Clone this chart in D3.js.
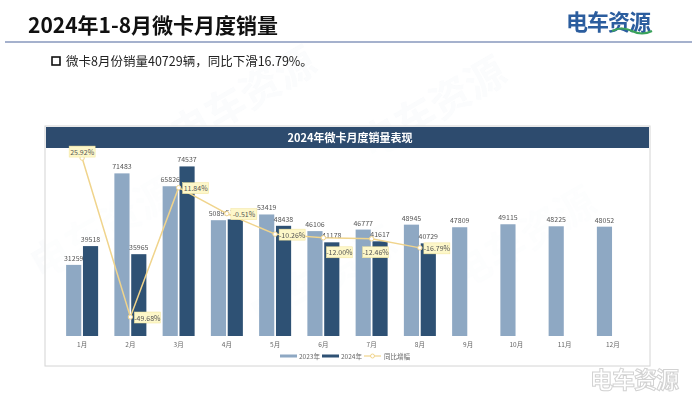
<!DOCTYPE html>
<html>
<head>
<meta charset="utf-8">
<title>2024年1-8月微卡月度销量</title>
<script src="https://cdn.jsdelivr.net/npm/d3@7"></script>
<style>
	html, body { margin: 0; padding: 0; background: #fff; overflow: hidden; }
	svg { display: block; font-family: "Noto Sans CJK SC", "Noto Sans", sans-serif; }
</style>
</head>
<body>
<svg id="chart" width="700" height="394"></svg>
<script>
	// data
	let months = ["1月", "2月", "3月", "4月", "5月", "6月", "7月", "8月", "9月", "10月", "11月", "12月"];
	let sales2023 = [31259, 71483, 65826, 50899, 53419, 46106, 46777, 48945, 47809, 49115, 48225, 48052];
	let sales2024 = [39518, 35965, 74537, 51266, 48438, 41178, 41617, 40729];
	let growth = [25.92, -49.68, 11.84, -0.51, -10.26, -12.00, -12.46, -16.79];
	let seriesNames = ["2023年", "2024年", "同比增幅"];

	let svg = d3.select("#chart");
	let c2023 = "#8ea8c3", c2024 = "#2e5174", cLine = "#f0d48c";

	// faint watermarks
	let wm = svg.append("g").attr("fill", "#9fb3cc").attr("opacity", 0.05)
		.attr("font-size", 40).attr("font-weight", "bold");
	[[110, 240], [250, 110], [440, 120], [330, 290], [530, 250]].forEach(p => {
		wm.append("text").attr("transform", `translate(${p[0]},${p[1]}) rotate(-30)`)
			.attr("text-anchor", "middle").text("电车资源");
	});

	// page title
	svg.append("text").attr("x", 28).attr("y", 33)
		.attr("font-size", 21).attr("font-weight", "bold").attr("fill", "#111")
		.text("2024年1-8月微卡月度销量");
	svg.append("line").attr("x1", 5).attr("x2", 692).attr("y1", 42).attr("y2", 42)
		.attr("stroke", "#8797bd").attr("stroke-width", 1.5);

	// logo top right
	let logo = svg.append("g");
	logo.append("text").attr("x", 566).attr("y", 30).attr("font-size", 22).attr("font-weight", "bold")
		.attr("fill", "#2b5d9e").attr("letter-spacing", -1).text("电车资源");
	logo.append("path").attr("d", "M612,31 q10,-5 20,0 q10,5 20,0").attr("fill", "none")
		.attr("stroke", "#3aa35a").attr("stroke-width", 2);

	// subtitle
	svg.append("rect").attr("x", 52).attr("y", 57).attr("width", 8).attr("height", 8)
		.attr("fill", "none").attr("stroke", "#111").attr("stroke-width", 1.6);
	svg.append("text").attr("x", 66).attr("y", 66).attr("font-size", 12.5).attr("fill", "#222")
		.text("微卡8月份销量40729辆，同比下滑16.79%。");

	// chart panel
	svg.append("rect").attr("x", 45).attr("y", 126).attr("width", 605).attr("height", 240)
		.attr("fill", "#fff").attr("fill-opacity", 0.6).attr("stroke", "#d4d4d4");
	svg.append("rect").attr("x", 46).attr("y", 127).attr("width", 603).attr("height", 21)
		.attr("fill", "#2d4b6e");
	svg.append("text").attr("x", 350).attr("y", 142).attr("text-anchor", "middle")
		.attr("font-size", 11).attr("font-weight", "bold").attr("fill", "#fff")
		.text("2024年微卡月度销量表现");

	let x = d3.scaleBand().domain(months).range([58, 637]);
	let x1 = d3.scaleBand().domain([0, 1]).range([x.bandwidth() / 2 - 16, x.bandwidth() / 2 + 16]).paddingInner(0.1);
	let y = d3.scaleLinear().domain([0, 80000]).range([336, 154]);
	let y2 = d3.scaleLinear().domain([-60, 30]).range([338.7, 149.5]);

	// bars
	let bars = [];
	months.forEach((m, i) => {
		bars.push({ m: m, s: 0, v: sales2023[i] });
		if (i < sales2024.length) bars.push({ m: m, s: 1, v: sales2024[i] });
	});
	svg.append("g").selectAll("rect").data(bars).join("rect")
		.attr("x", d => x(d.m) + x1(d.s))
		.attr("width", x1.bandwidth())
		.attr("y", d => y(d.v))
		.attr("height", d => y(0) - y(d.v))
		.attr("fill", d => d.s ? c2024 : c2023);
	svg.append("g").selectAll("text").data(bars).join("text")
		.attr("x", d => x(d.m) + x1(d.s) + x1.bandwidth() / 2)
		.attr("y", d => y(d.v) - 4)
		.attr("text-anchor", "middle").attr("font-size", 7).attr("fill", "#555")
		.text(d => d.v);

	// month axis
	let ax = svg.append("g").attr("transform", `translate(0,${y(0)})`)
		.call(d3.axisBottom(x).tickSize(0).tickPadding(6));
	ax.select(".domain").remove();
	ax.selectAll("text").attr("font-size", 6.5).attr("fill", "#666")
		.attr("font-family", "\"Noto Sans CJK SC\", sans-serif");

	// growth line
	let pts = growth.map((g, i) => ({ m: months[i], g: g, i: i }));
	let line = d3.line().x(d => x(d.m) + x.bandwidth() / 2).y(d => y2(d.g));
	svg.append("path").datum(pts).attr("d", line)
		.attr("fill", "none").attr("stroke", cLine).attr("stroke-width", 1.5);
	svg.append("g").selectAll("circle").data(pts).join("circle")
		.attr("cx", d => x(d.m) + x.bandwidth() / 2).attr("cy", d => y2(d.g)).attr("r", 2.2)
		.attr("fill", "#fff").attr("stroke", cLine).attr("stroke-width", 1);

	let lab = svg.append("g").selectAll("g").data(pts).join("g")
		.attr("transform", d => {
			let cx = x(d.m) + x.bandwidth() / 2, cy = y2(d.g);
			if (d.i == 0) return `translate(${cx},${cy - 6})`;
			if (d.i == 5) return `translate(${cx + 16},${cy + 15})`;
			if (d.i == 6) return `translate(${cx + 4},${cy + 14})`;
			return `translate(${cx + 17},${cy + 1})`;
		});
	lab.append("rect").attr("x", -13).attr("y", -6).attr("width", 26).attr("height", 11)
		.attr("fill", "#fdf7c9").attr("stroke", "#f3e49a").attr("stroke-width", 0.5);
	lab.append("text").attr("text-anchor", "middle").attr("y", 2.5)
		.attr("font-size", 7).attr("fill", "#555")
		.text(d => d.g.toFixed(2) + "%");

	// legend
	let lg = svg.append("g").attr("transform", "translate(280,356)").attr("font-size", 6.5).attr("fill", "#666");
	lg.append("rect").attr("x", 0).attr("y", -1.5).attr("width", 17).attr("height", 3).attr("fill", c2023);
	lg.append("text").attr("x", 19).attr("y", 2.5).text(seriesNames[0]);
	lg.append("rect").attr("x", 42).attr("y", -1.5).attr("width", 17).attr("height", 3).attr("fill", c2024);
	lg.append("text").attr("x", 61).attr("y", 2.5).text(seriesNames[1]);
	lg.append("line").attr("x1", 84).attr("x2", 101).attr("y1", 0).attr("y2", 0).attr("stroke", cLine).attr("stroke-width", 1.2);
	lg.append("circle").attr("cx", 92.5).attr("cy", 0).attr("r", 2).attr("fill", "#fff").attr("stroke", cLine);
	lg.append("text").attr("x", 104).attr("y", 2.5).text(seriesNames[2]);

	// bottom right watermark logo
	svg.append("text").attr("x", 590).attr("y", 388).attr("font-size", 23).attr("font-weight", "bold")
		.attr("fill", "#fff").attr("stroke", "#d2d2d2").attr("stroke-width", 1).attr("letter-spacing", -1)
		.text("电车资源");
</script>
</body>
</html>
